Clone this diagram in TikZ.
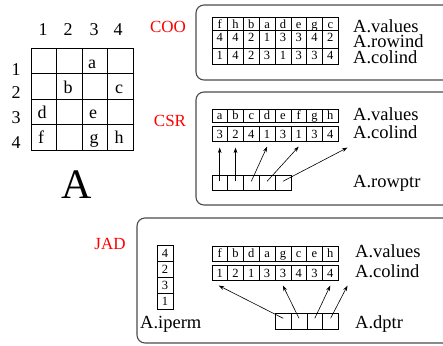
\documentclass[tikz,border=0pt]{standalone}
\usepackage{fontspec}
\setmainfont{Liberation Serif}
\usetikzlibrary{arrows.meta}
\definecolor{boxline}{gray}{0.3}
\tikzset{
  panel/.style={draw=boxline, line width=1.1pt, rounded corners=8pt},
  fmtlabel/.style={text=red, font=\fontsize{17}{17}\selectfont, inner sep=0},
  fieldlabel/.style={font=\fontsize{18.5}{18.5}\selectfont, anchor=base west, inner sep=0},
  mtxtext/.style={font=\fontsize{18}{18}\selectfont, anchor=base, inner sep=0},
  cell/.style={draw, line width=0.6pt, minimum width=15.8pt, minimum height=#1,
    inner sep=0, anchor=north west, font=\fontsize{12.5}{12.5}\selectfont,
    text height=8.5pt, text depth=0pt},
  cell/.default=14pt,
  ptr/.style={-{Stealth[length=5.5pt,width=3.8pt]}, line width=0.6pt},
}
\begin{document}
\begin{tikzpicture}[x=1pt,y=-1pt]
\useasboundingbox (0,0) rectangle (443,345);
\clip (0,0) rectangle (443,345);

% ---- the matrix A ----
\draw[line width=0.9pt] (31,48) rectangle (133,150);
\foreach \k in {1,2,3} {
  \draw[line width=0.9pt] ({31+\k*25.5},48) -- ({31+\k*25.5},150);
  \draw[line width=0.9pt] (31,{48+\k*25.5}) -- (133,{48+\k*25.5});
}
\foreach \c/\x in {1/43,2/68,3/94,4/118}
  \node[mtxtext] (colhead\c) at (\x,36) {\c};
\foreach \r/\y in {1/75,2/98,3/123,4/148}
  \node[mtxtext] (rowhead\r) at (16,\y) {\r};
\node[mtxtext] (ea) at (92,68) {a};
\node[mtxtext] (eb) at (68,93) {b};
\node[mtxtext] (ec) at (119,93) {c};
\node[mtxtext] (ed) at (42,118) {d};
\node[mtxtext] (ee) at (93,118) {e};
\node[mtxtext] (ef) at (41,143) {f};
\node[mtxtext] (eg) at (94,143) {g};
\node[mtxtext] (eh) at (119,143) {h};
\node[font=\fontsize{42}{42}\selectfont, anchor=base, inner sep=0] (bigA) at (77,198) {A};

% ---- COO ----
\draw[panel] (196,5) rectangle (470,80);
\node[fmtlabel] (coo) at (168,27) {COO};
\foreach \v [count=\i] in {f,h,b,a,d,e,g,c}
  \node[cell=13pt] (coov\i) at ({211.5+(\i-1)*15.8},17) {\v};
\foreach \v [count=\i] in {4,4,2,1,3,3,4,2}
  \node[cell=18pt, text height=5pt] (coor\i) at ({211.5+(\i-1)*15.8},30) {\v};
\foreach \v [count=\i] in {1,4,2,3,1,3,3,4}
  \node[cell=16pt, text height=6pt] (cooc\i) at ({211.5+(\i-1)*15.8},48) {\v};
\node[fieldlabel] (coovl) at (353,33) {A.values};
\node[fieldlabel] (coorl) at (353,48) {A.rowind};
\node[fieldlabel] (coocl) at (353,63) {A.colind};

% ---- CSR ----
\draw[panel] (196,92) rectangle (470,205);
\node[fmtlabel] (csr) at (170,121) {CSR};
\foreach \v [count=\i] in {a,b,c,d,e,f,g,h}
  \node[cell=13.5pt] (csrv\i) at ({211.5+(\i-1)*15.8},108.5) {\v};
\foreach \v [count=\i] in {3,2,4,1,3,1,3,4}
  \node[cell=15pt] (csrc\i) at ({211.5+(\i-1)*15.8},126) {\v};
\foreach \i in {1,...,5}
  \node[cell=15pt] (csrp\i) at ({211.5+(\i-1)*15.8},175) {};
\node[fieldlabel] (csrvl) at (353,120) {A.values};
\node[fieldlabel] (csrcl) at (353,138) {A.colind};
\node[fieldlabel] (csrpl) at (353,187) {A.rowptr};
\coordinate (csrend) at ([xshift=9pt,yshift=-6pt]csrc8.south east);
\draw[ptr] ([yshift=1.5pt]csrp1.center) -- ([yshift=-6pt]csrc1.south);
\draw[ptr] ([yshift=1.5pt]csrp2.center) -- ([yshift=-6pt]csrc2.south);
\draw[ptr] ([yshift=1.5pt]csrp3.center) -- ([yshift=-5pt]csrc4.south);
\draw[ptr] ([yshift=1.5pt]csrp4.center) -- ([yshift=-5pt]csrc6.south);
\draw[ptr] ([yshift=1.5pt]csrp5.center) -- (csrend);

% ---- JAD ----
\draw[panel] (137,218) rectangle (470,343);
\node[fmtlabel] (jad) at (110,244) {JAD};
\foreach \v [count=\i] in {4,2,3,1}
  \node[cell=16pt, minimum width=15.5pt] (jadi\i) at (157,{245+(\i-1)*16}) {\v};
\node[fieldlabel] (jadil) at (140,328) {A.iperm};
\foreach \v [count=\i] in {f,b,d,a,g,c,e,h}
  \node[cell=14.5pt] (jadv\i) at ({211.5+(\i-1)*15.8},246) {\v};
\foreach \v [count=\i] in {1,2,1,3,3,4,3,4}
  \node[cell=15pt] (jadc\i) at ({211.5+(\i-1)*15.8},265) {\v};
\foreach \i in {1,...,4}
  \node[cell=16pt] (jadp\i) at ({275+(\i-1)*15.8},313) {};
\node[fieldlabel] (jadvl) at (355,257) {A.values};
\node[fieldlabel] (jadcl) at (355,277) {A.colind};
\node[fieldlabel] (jadpl) at (355,328) {A.dptr};
\coordinate (jadend) at ([xshift=9pt,yshift=-5pt]jadc8.south east);
\draw[ptr] ([yshift=3pt]jadp1.center) -- ([xshift=-1pt,yshift=-5pt]jadc1.south);
\draw[ptr] ([yshift=3pt]jadp2.center) -- ([yshift=-5pt]jadc5.south);
\draw[ptr] ([yshift=3pt]jadp3.center) -- ([yshift=-5pt]jadc8.south);
\draw[ptr] ([yshift=3pt]jadp4.center) -- (jadend);
\end{tikzpicture}
\end{document}
